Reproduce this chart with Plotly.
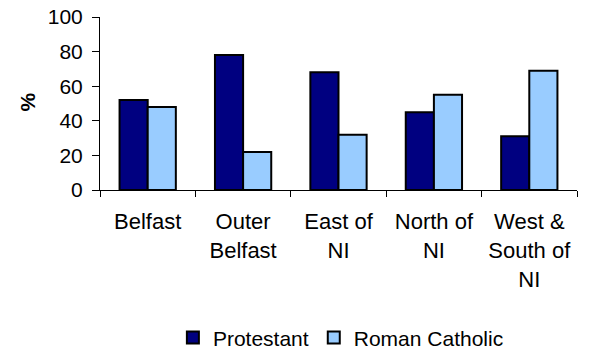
import plotly.graph_objects as go

regions = ["Belfast", "Outer<br>Belfast", "East of<br>NI", "North of<br>NI", "West &<br>South of<br>NI"]
protestant = [52, 78, 68, 45, 31]
roman_catholic = [48, 22, 32, 55, 69]
y_ticks = [0, 20, 40, 60, 80, 100]

FONT = "Liberation Sans, Arial, sans-serif"

fig = go.Figure()
fig.add_trace(go.Bar(
    x=regions, y=protestant, name="Protestant",
    marker=dict(color="#000080", line=dict(color="#000000", width=2)),
))
fig.add_trace(go.Bar(
    x=regions, y=roman_catholic, name="Roman Catholic",
    marker=dict(color="#99CCFF", line=dict(color="#000000", width=2)),
))

fig.update_layout(
    width=592, height=352,
    margin=dict(l=100, r=15, t=17, b=162, autoexpand=False),
    paper_bgcolor="white", plot_bgcolor="white",
    barmode="group", bargap=0.41, bargroupgap=0,
    font=dict(family=FONT, size=21, color="#000000"),
    showlegend=True,
    legend=dict(
        orientation="h", x=0.505, xanchor="center", y=-0.855, yanchor="middle",
        font=dict(size=21), itemwidth=30, tracegroupgap=0,
        borderwidth=0, bgcolor="rgba(0,0,0,0)",
    ),
    annotations=[dict(
        text="<b>%</b>", xref="paper", yref="paper", x=-0.18, y=0.51,
        textangle=-90, showarrow=False, font=dict(size=21),
    )],
)

fig.update_xaxes(
    showline=True, linecolor="#000000", linewidth=1, automargin=False,
    ticks="outside", ticklen=6, tickcolor="#000000", tickson="boundaries",
    showgrid=False, tickfont=dict(size=22), ticklabelstandoff=12,
)
fig.update_yaxes(
    range=[0, 100], tickvals=y_ticks, automargin=False,
    showline=True, linecolor="#000000", linewidth=1,
    ticks="outside", ticklen=7, tickcolor="#000000", ticklabelstandoff=5,
    showgrid=False, zeroline=False, tickfont=dict(size=21),
)

fig.write_html("out.html")
